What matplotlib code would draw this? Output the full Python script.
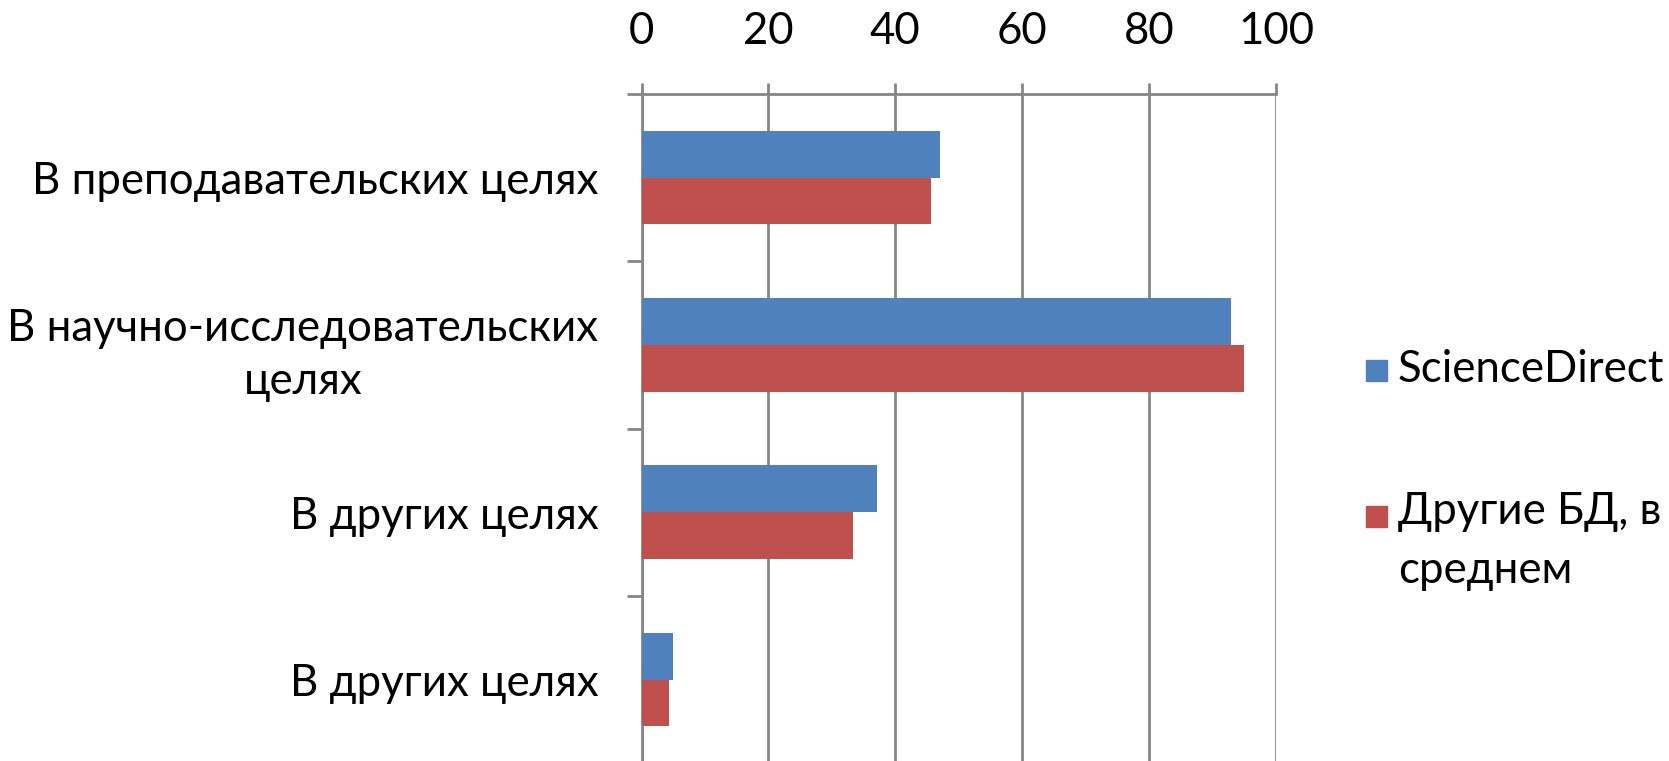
import matplotlib
matplotlib.use("Agg")
import matplotlib.pyplot as plt
from matplotlib.patches import Rectangle

categories = ["В преподавательских целях", "В научно-исследовательских\nцелях",
              "В других целях", "В других целях"]
series_names = ["ScienceDirect", "Другие БД, в\nсреднем"]
science_direct = [47.0, 92.9, 37.1, 5.0]
other_db = [45.7, 95.0, 33.3, 4.3]
xticks = [0, 20, 40, 60, 80, 100]
colors = ["#4F81BD", "#C0504D"]

plt.rcParams['font.family'] = ['Lato', 'DejaVu Sans']
FS = 31.5

W, H = 1669, 761
fig = plt.figure(figsize=(W / 100, H / 100), dpi=100)
left, right = 641.5 / W, 1276 / W
top = 1 - 94 / H
ax = fig.add_axes([left, 0, right - left, top])

band = 167.3
n_rows = (H - 94) / band
ax.set_ylim(-0.5 + n_rows, -0.5)
ax.set_xlim(0, 100)

bh = 0.28
ys = list(range(len(categories)))
ax.barh([y - bh / 2 for y in ys], science_direct, height=bh, color=colors[0], zorder=3)
ax.barh([y + bh / 2 for y in ys], other_db, height=bh, color=colors[1], zorder=3)

ax.xaxis.tick_top()
ax.set_xticks(xticks)
ax.set_xticklabels([str(t) for t in xticks], fontsize=FS)
ax.tick_params(axis='x', length=8, width=2, color='#868686', pad=22)
ax.grid(axis='x', color='#868686', linewidth=2, zorder=0)

ax.set_yticks([-0.5, 0.5, 1.5, 2.5])
ax.set_yticklabels([])
ax.tick_params(axis='y', which='major', length=11, width=2, color='#868686')
ax.set_yticks(ys, minor=True)
ax.set_yticklabels(categories, minor=True, fontsize=FS, multialignment='center',
                   linespacing=1.35)
ax.tick_params(axis='y', which='minor', length=0, pad=31)

for s in ['right', 'bottom']:
    ax.spines[s].set_visible(False)
for s in ['top', 'left']:
    ax.spines[s].set_color('#868686')
    ax.spines[s].set_linewidth(2)

# legend
sq = 21
legend_items = [(370, series_names[0], -21), (516, series_names[1], -25)]
for (yc, name, off), c in zip(legend_items, colors):
    fig.add_artist(Rectangle((1366 / W, 1 - (yc + sq / 2) / H), sq / W, sq / H,
                             transform=fig.transFigure, color=c))
    fig.text(1398 / W, 1 - (yc + off) / H, name, fontsize=FS, va='top', ha='left',
             linespacing=1.55)

fig.savefig("out.png", dpi=100)
